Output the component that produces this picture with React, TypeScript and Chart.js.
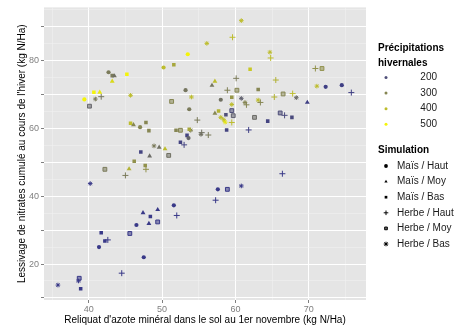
import React, { useEffect, useRef } from 'react';
import { Chart, registerables } from 'chart.js';
import { drawPoint } from 'chart.js/helpers';

Chart.register(...registerables);

const FONT = '"Liberation Sans", Arial, sans-serif';

const SIMULATIONS = ['Maïs / Haut', 'Maïs / Moy', 'Maïs / Bas', 'Herbe / Haut', 'Herbe / Moy', 'Herbe / Bas'];
const SIM_STYLES = ['circle', 'triangle', 'rect', 'cross', 'rect', 'star'];
const PRECIP_BREAKS = [200, 300, 400, 500];
const X_TICK_LABELS = [40, 50, 60, 70];
const Y_TICK_LABELS = [20, 40, 60, 80];

// [reliquat (x), lessivage (y), précipitations]
const maisHaut: number[][] = [
  [42.7, 76.5, 280], [39.4, 68.5, 500], [47.0, 60.3, 300], [50.2, 77.9, 400], [53.5, 81.8, 500],
  [53.2, 71.2, 270], [58.0, 68.4, 260], [53.7, 65.6, 280], [53.6, 57.1, 240], [72.3, 72.2, 170],
  [74.5, 72.7, 170], [46.5, 31.5, 160], [41.4, 25.0, 160], [47.5, 22.0, 160], [51.6, 37.3, 160],
  [57.6, 42.0, 160],
];
const maisMoy: number[][] = [
  [43.5, 75.4, 260], [43.2, 73.8, 450], [41.5, 70.6, 480], [46.1, 61.0, 300], [48.3, 51.8, 250],
  [49.6, 54.4, 260], [50.4, 53.9, 400], [45.5, 48.0, 380], [57.2, 73.8, 400], [56.8, 72.6, 270],
  [57.2, 64.4, 300], [69.8, 67.6, 170], [47.4, 35.1, 160], [48.2, 31.9, 160], [49.4, 36.0, 160],
];
const maisBas: number[][] = [
  [43.2, 75.5, 280], [45.2, 75.9, 500], [40.7, 70.6, 500], [47.8, 61.7, 300], [48.2, 59.3, 300],
  [45.7, 61.5, 400], [47.1, 53.0, 180], [46.2, 50.3, 320], [47.7, 49.0, 320], [51.6, 78.7, 360],
  [51.9, 59.4, 300], [53.7, 59.7, 360], [53.4, 57.9, 180], [52.5, 55.9, 180], [63.1, 71.4, 300],
  [59.5, 69.1, 330], [62.0, 77.4, 420], [58.8, 59.5, 180], [64.4, 62.1, 180], [67.7, 63.2, 190],
  [58.7, 64.0, 200], [57.7, 65.1, 380], [48.4, 34.0, 160], [41.7, 29.2, 160], [42.2, 26.8, 160],
  [38.9, 12.7, 160],
];
const herbeHaut: number[][] = [
  [41.7, 69.3, 270], [45.0, 46.1, 280], [47.8, 47.9, 320], [54.8, 62.4, 280], [53.0, 55.1, 180],
  [55.4, 58.7, 260], [56.3, 58.0, 280], [59.6, 86.8, 400], [64.8, 80.7, 400], [60.1, 74.7, 280],
  [58.9, 71.2, 290], [65.5, 74.2, 380], [61.5, 66.9, 300], [63.4, 67.6, 300], [65.3, 69.2, 380],
  [67.8, 70.2, 400], [70.9, 77.6, 320], [59.5, 61.7, 400], [75.8, 70.5, 170], [66.7, 63.8, 190],
  [61.8, 59.5, 170], [44.5, 17.3, 160], [42.6, 27.1, 160], [52.0, 34.3, 160], [57.3, 38.8, 160],
  [66.4, 46.6, 160],
];
const herbeMoy: number[][] = [
  [40.1, 66.5, 240], [42.2, 47.9, 280], [50.9, 52.0, 260], [51.3, 67.9, 300], [52.5, 59.4, 300],
  [60.2, 71.2, 300], [66.5, 70.1, 300], [71.8, 77.6, 320], [62.6, 63.2, 250], [66.1, 64.5, 200],
  [59.7, 63.7, 230], [59.5, 65.2, 200], [45.6, 29.0, 160], [38.7, 15.8, 160], [58.9, 42.0, 160],
  [49.4, 32.4, 160],
];
const herbeBas: number[][] = [
  [40.9, 68.6, 280], [45.7, 69.7, 400], [56.1, 85.0, 400], [60.8, 91.7, 400], [64.7, 82.4, 400],
  [54.0, 69.2, 400], [59.5, 67.0, 400], [60.8, 68.8, 230], [61.3, 67.6, 300], [63.1, 68.3, 400],
  [68.3, 69.0, 250], [71.1, 72.4, 400], [53.9, 59.4, 300], [55.3, 58.2, 260], [48.9, 54.8, 280],
  [58.0, 63.2, 400], [58.4, 62.5, 400], [58.6, 61.8, 470], [40.2, 43.7, 160], [35.8, 13.8, 160],
  [60.8, 43.0, 160], [38.6, 15.0, 160],
];
const SERIES = [maisHaut, maisMoy, maisBas, herbeHaut, herbeMoy, herbeBas];

const P_LOW = 150;
const P_HIGH = 520;
const C_LOW = [52, 52, 140];
const C_HIGH = [255, 255, 0];
function precipColor(p: number, alpha = 1): string {
  const t = Math.max(0, Math.min(1, (p - P_LOW) / (P_HIGH - P_LOW)));
  const c = C_LOW.map((v, i) => Math.round(v + (C_HIGH[i] - v) * t));
  return `rgba(${c[0]},${c[1]},${c[2]},${alpha})`;
}

const POINT_RADIUS = [2.1, 2.8, 2.5, 3, 2.7, 2.3];

const bgPlugin = {
  id: 'panelBg',
  beforeDraw(chart: any) {
    const { ctx, chartArea } = chart;
    ctx.save();
    ctx.fillStyle = '#e5e5e5';
    ctx.fillRect(chartArea.left, chartArea.top, chartArea.right - chartArea.left, chartArea.bottom - chartArea.top);
    ctx.restore();
  },
};

const legendPlugin = {
  id: 'ggLegend',
  afterDraw(chart: any) {
    const ctx = chart.ctx as CanvasRenderingContext2D;
    ctx.save();
    ctx.textBaseline = 'middle';
    ctx.fillStyle = '#000';
    ctx.font = `bold 10px ${FONT}`;
    ctx.textAlign = 'left';
    ctx.fillText('Précipitations', 378, 48);
    ctx.fillText('hivernales', 378, 63);
    PRECIP_BREAKS.forEach((b, i) => {
      const y = 77.5 + i * 15.6;
      ctx.fillStyle = precipColor(b);
      ctx.strokeStyle = precipColor(b);
      drawPoint(ctx, { pointStyle: 'circle', radius: 1.5, borderWidth: 0, rotation: 0 } as any, 386, y);
      ctx.fillStyle = '#1a1a1a';
      ctx.font = `10px ${FONT}`;
      ctx.textAlign = 'right';
      ctx.fillText(String(b), 437, y);
    });
    ctx.fillStyle = '#000';
    ctx.font = `bold 10px ${FONT}`;
    ctx.textAlign = 'left';
    ctx.fillText('Simulation', 378, 150);
    SIMULATIONS.forEach((s, i) => {
      const y = 166 + i * 15.6;
      const style = SIM_STYLES[i];
      ctx.fillStyle = i === 4 ? 'rgba(0,0,0,0.6)' : '#000';
      ctx.strokeStyle = '#000';
      ctx.lineWidth = 1;
      const stroked = style === 'cross' || style === 'star';
      drawPoint(ctx, { pointStyle: style, radius: stroked ? 2.3 : 1.9, borderWidth: stroked || i === 4 ? 1 : 0, rotation: 0 } as any, 386, y);
      ctx.fillStyle = '#1a1a1a';
      ctx.font = `10px ${FONT}`;
      ctx.fillText(s, 397, y);
    });
    ctx.restore();
  },
};

function gridColor(ctx: any) {
  const v = ctx.tick ? ctx.tick.value : 0;
  return Math.abs(v % 10) < 1e-6 ? '#ffffff' : '#f2f2f2';
}
function gridWidth(ctx: any) {
  const v = ctx.tick ? ctx.tick.value : 0;
  return Math.abs(v % 10) < 1e-6 ? 1 : 0.5;
}
function tickColor(ctx: any) {
  const v = ctx.tick ? ctx.tick.value : 0;
  return Math.abs(v % 10) < 1e-6 ? '#7f7f7f' : 'rgba(0,0,0,0)';
}

export default function App() {
  const ref = useRef<HTMLCanvasElement>(null);
  useEffect(() => {
    const datasets = SERIES.map((arr, i) => {
      const style = SIM_STYLES[i];
      const stroked = style === 'cross' || style === 'star';
      return {
        label: SIMULATIONS[i],
        data: arr.map((d) => ({ x: d[0], y: d[1] })),
        pointStyle: style,
        pointRadius: POINT_RADIUS[i],
        pointBackgroundColor: arr.map((d) => precipColor(d[2], i === 4 ? 0.55 : 1)),
        pointBorderColor: arr.map((d) => precipColor(d[2])),
        pointBorderWidth: stroked ? 1 : i === 4 ? 1 : 0,
        showLine: false,
      };
    });
    const chart = new Chart(ref.current as HTMLCanvasElement, {
      type: 'scatter',
      data: { datasets: datasets as any },
      options: {
        animation: false,
        responsive: false,
        devicePixelRatio: 1,
        layout: { padding: { left: 0, right: 93, top: 6, bottom: 0 } },
        plugins: { legend: { display: false }, tooltip: { enabled: false } },
        scales: {
          x: {
            type: 'linear',
            min: 33.9,
            max: 77.8,
            afterFit: (s: any) => { s.height = 27; },
            border: { display: false },
            grid: { color: gridColor, lineWidth: gridWidth, tickColor: tickColor, tickLength: 3, drawTicks: true },
            ticks: {
              stepSize: 5,
              includeBounds: false,
              autoSkip: false,
              maxRotation: 0,
              padding: 1,
              color: '#7f7f7f',
              font: { family: FONT, size: 9 },
              callback: (v: any) => (X_TICK_LABELS.includes(Number(v)) ? String(v) : ''),
            },
            title: {
              display: true,
              text: "Reliquat d'azote minéral dans le sol au 1er novembre (kg N/Ha)",
              color: '#000',
              font: { family: FONT, size: 10 },
              padding: { top: 0, bottom: 1 },
            },
          },
          y: {
            type: 'linear',
            min: 9.4,
            max: 95.6,
            afterFit: (s: any) => { s.width = 44; },
            border: { display: false },
            grid: { color: gridColor, lineWidth: gridWidth, tickColor: tickColor, tickLength: 3, drawTicks: true },
            ticks: {
              stepSize: 5,
              includeBounds: false,
              autoSkip: false,
              padding: 2,
              color: '#7f7f7f',
              font: { family: FONT, size: 9 },
              callback: (v: any) => (Y_TICK_LABELS.includes(Number(v)) ? String(v) : ''),
            },
            title: {
              display: true,
              text: "Lessivage de nitrates cumulé au cours de l'hiver (kg N/Ha)",
              color: '#000',
              font: { family: FONT, size: 10 },
              padding: { top: 16, bottom: 0 },
            },
          },
        },
      },
      plugins: [bgPlugin, legendPlugin],
    } as any);
    return () => chart.destroy();
  }, []);
  return (
    <div style={{ position: 'absolute', left: 0, top: 0, width: 459, height: 327, background: '#fff' }}>
      <canvas ref={ref} width={459} height={327} style={{ display: 'block', width: 459, height: 327 }} />
    </div>
  );
}
